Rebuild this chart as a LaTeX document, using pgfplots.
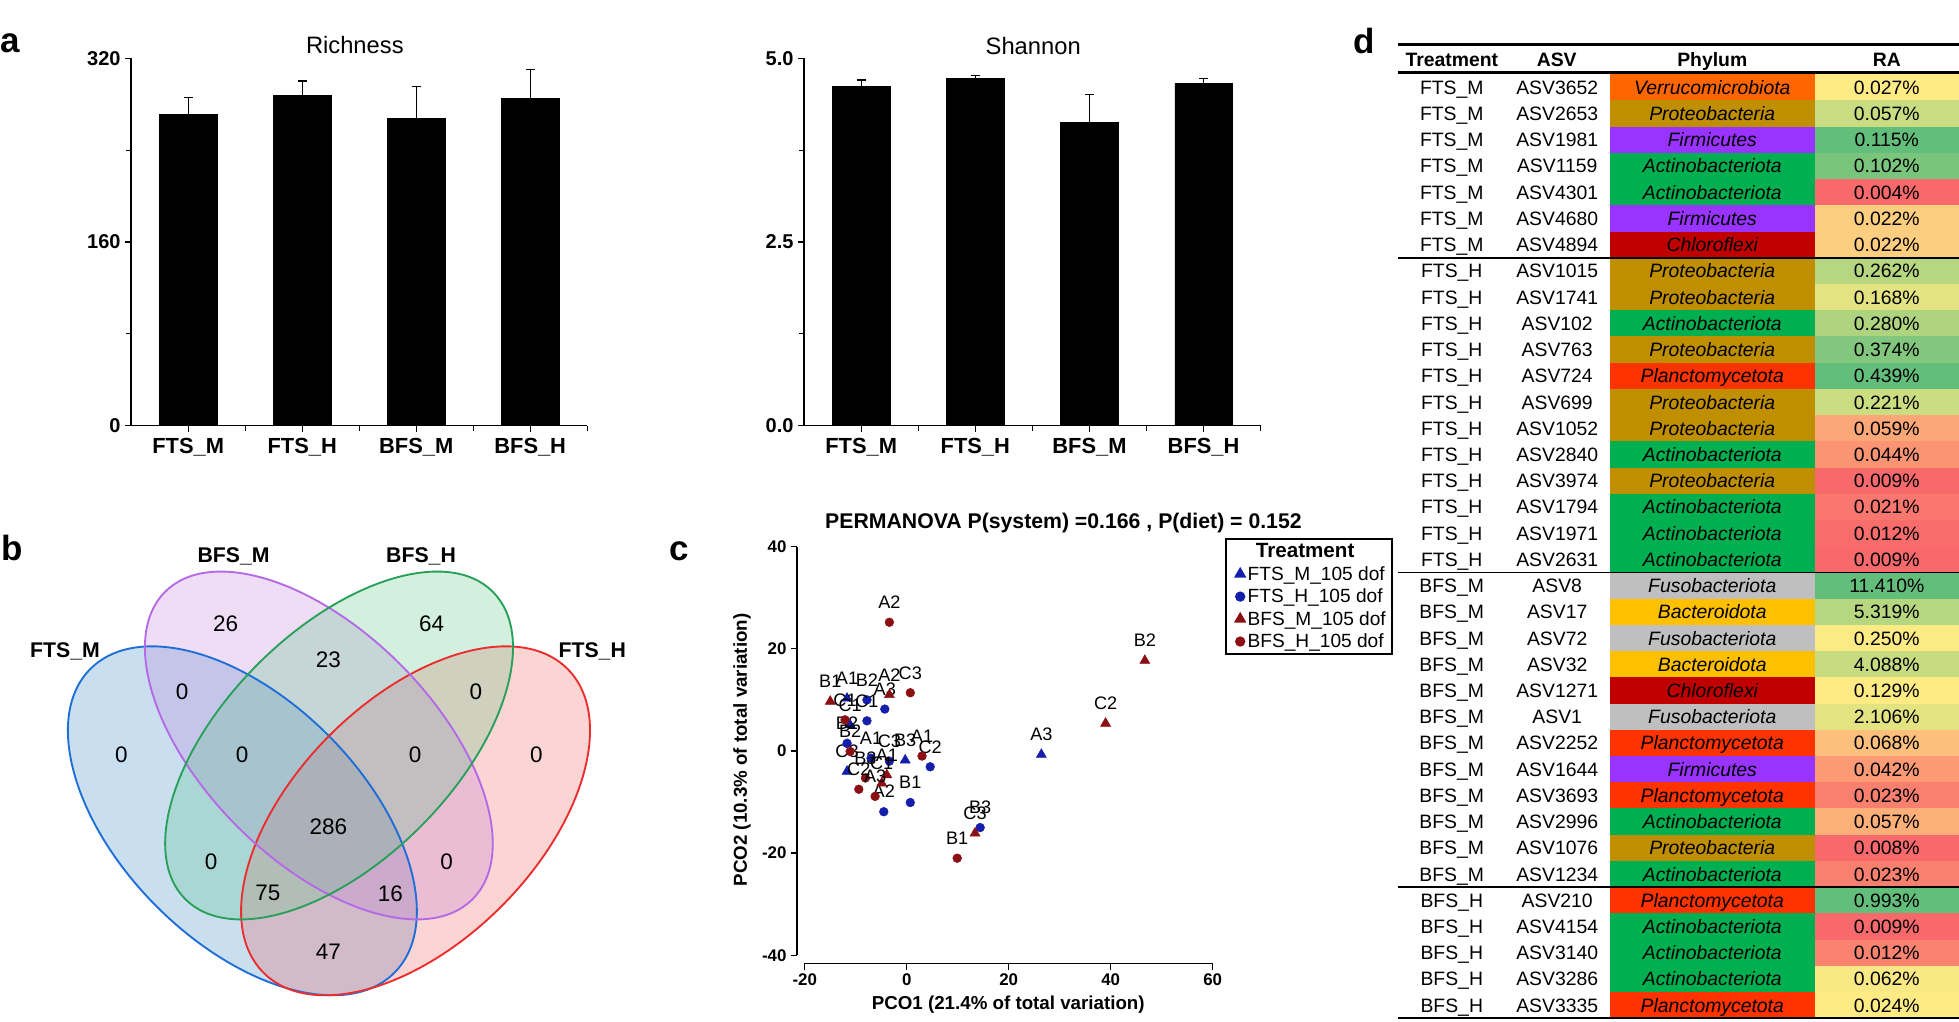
\documentclass[border=0pt]{standalone}
\usepackage{pgfplots}
\pgfplotsset{compat=1.18}
\usepackage{fontspec}
\setmainfont{Liberation Sans}
\newcommand\fs[1]{\fontsize{#1}{#1}\selectfont}
% venn colours
\definecolor{vblueL}{RGB}{30,110,215}
\definecolor{vpurpL}{RGB}{180,105,230}
\definecolor{vgreenL}{RGB}{40,160,90}
\definecolor{vredL}{RGB}{235,45,45}
\definecolor{vblueF}{RGB}{39,127,195}
\definecolor{vpurpF}{RGB}{187,120,215}
\definecolor{vgreenF}{RGB}{79,195,127}
\definecolor{vredF}{RGB}{239,83,83}
% scatter colours
\definecolor{fblue}{RGB}{20,30,170}
\definecolor{bred}{RGB}{140,15,20}
% phylum colours
\definecolor{cVer}{RGB}{255,102,0}
\definecolor{cPro}{RGB}{191,143,0}
\definecolor{cFir}{RGB}{153,51,255}
\definecolor{cAct}{RGB}{0,176,80}
\definecolor{cChl}{RGB}{192,0,0}
\definecolor{cPla}{RGB}{255,51,0}
\definecolor{cFus}{RGB}{191,191,191}
\definecolor{cBac}{RGB}{255,192,0}
% RA scale
\definecolor{rR}{RGB}{248,105,107}
\definecolor{rY}{RGB}{255,235,132}
\definecolor{rG}{RGB}{99,190,123}
\begin{document}
\begin{tikzpicture}[x=1pt,y=1pt]
\useasboundingbox (0,0) rectangle (1568,818);

% ---------------- panel a : Richness ----------------
\begin{axis}[
  at={(105pt,477.3pt)}, anchor=south west,
  scale only axis, width=365pt, height=294pt,
  xmin=0.5, xmax=4.5, ymin=0, ymax=320,
  axis lines*=left,
  axis line style={line width=1.2pt},
  tick style={black, line width=1pt},
  tick align=outside, major tick length=5pt, minor tick length=4pt,
  xtick={1,2,3,4}, xticklabels={FTS\_M,FTS\_H,BFS\_M,BFS\_H},
  minor xtick={1.5,2.5,3.5,4.5},
  ytick={0,160,320}, yticklabels={0,160,320}, minor ytick={80,240},
  xticklabel style={font=\fs{17.5}\bfseries, yshift=-1.5pt},
  yticklabel style={font=\fs{16}\bfseries},
  clip=false,
]
\addplot[ybar, bar width=46pt, fill=black, draw=black,
  error bars/.cd, y dir=plus, y explicit,
  error bar style={line width=1pt, black},
  error mark options={rotate=90, mark size=3.5pt, line width=1pt, black}]
  coordinates {(1,271.5) +- (0,14.5) (2,287.7) +- (0,12.5) (3,268.0) +- (0,27.6) (4,284.8) +- (0,25.6)};
\end{axis}

% ---------------- panel a : Shannon ----------------
\begin{axis}[
  at={(643.6pt,477.3pt)}, anchor=south west,
  scale only axis, width=365.4pt, height=294pt,
  xmin=0.5, xmax=4.5, ymin=0, ymax=5,
  axis lines*=left,
  axis line style={line width=1.2pt},
  tick style={black, line width=1pt},
  tick align=outside, major tick length=5pt, minor tick length=4pt,
  xtick={1,2,3,4}, xticklabels={FTS\_M,FTS\_H,BFS\_M,BFS\_H},
  minor xtick={1.5,2.5,3.5,4.5},
  ytick={0,2.5,5}, yticklabels={0.0,2.5,5.0}, minor ytick={1.25,3.75},
  xticklabel style={font=\fs{17.5}\bfseries, yshift=-1.5pt},
  yticklabel style={font=\fs{16}\bfseries},
  clip=false,
]
\addplot[ybar, bar width=46pt, fill=black, draw=black,
  error bars/.cd, y dir=plus, y explicit,
  error bar style={line width=1pt, black},
  error mark options={rotate=90, mark size=3.5pt, line width=1pt, black}]
  coordinates {(1,4.623) +- (0,0.082) (2,4.732) +- (0,0.032) (3,4.129) +- (0,0.381) (4,4.664) +- (0,0.064)};
\end{axis}

\node[font=\fs{19}] at (284,782) {Richness};
\node[font=\fs{19}] at (827,781) {Shannon};

% ---------------- panel b : Venn ----------------
\fill[vblueF, fill opacity=0.25, rotate around={-45:(194,161)}] (194,161) ellipse (172 and 97);
\fill[vredF, fill opacity=0.25, rotate around={45:(332.6,161)}] (332.6,161) ellipse (172 and 97);
\fill[vpurpF, fill opacity=0.25, rotate around={-45:(255.2,221.3)}] (255.2,221.3) ellipse (174 and 92);
\fill[vgreenF, fill opacity=0.25, rotate around={45:(271.4,221.3)}] (271.4,221.3) ellipse (174 and 92);
\draw[vblueL, line width=1.5pt, rotate around={-45:(194,161)}] (194,161) ellipse (172 and 97);
\draw[vredL, line width=1.5pt, rotate around={45:(332.6,161)}] (332.6,161) ellipse (172 and 97);
\draw[vpurpL, line width=1.5pt, rotate around={-45:(255.2,221.3)}] (255.2,221.3) ellipse (174 and 92);
\draw[vgreenL, line width=1.5pt, rotate around={45:(271.4,221.3)}] (271.4,221.3) ellipse (174 and 92);
\begin{scope}[every node/.style={font=\fs{17}\bfseries}]
\node at (187,372.5) {BFS\_M};
\node at (337,372.5) {BFS\_H};
\node at (52,296.4) {FTS\_M};
\node at (474,296.4) {FTS\_H};
\end{scope}
\begin{scope}[every node/.style={font=\fs{18}}]
\node at (180.5,319) {26};
\node at (345.4,319) {64};
\node at (262.8,289.7) {23};
\node at (145.8,264.4) {0};
\node at (380.8,264.4) {0};
\node at (97.2,213.7) {0};
\node at (193.7,213.7) {0};
\node at (332.2,213.7) {0};
\node at (429.4,213.7) {0};
\node at (262.8,156.3) {286};
\node at (169,128.3) {0};
\node at (357.5,128.3) {0};
\node at (214.5,103) {75};
\node at (312.4,103) {16};
\node at (262.8,56.3) {47};
\end{scope}

% ---------------- panel c : PCoA ----------------
\begin{axis}[
  at={(638pt,46.9pt)}, anchor=south west,
  scale only axis, width=332.6pt, height=333.5pt,
  xmin=-21.5, xmax=60, ymin=-41.6, ymax=40,
  axis lines*=left, axis line style={draw=none},
  xtick={-20,0,20,40,60}, xticklabels={-20,0,20,40,60},
  ytick={-40,-20,0,20,40}, yticklabels={-40,-20,0,20,40},
  tick align=outside, major tick length=5pt, tick style={black, line width=1pt},
  ticklabel style={font=\fs{13.5}\bfseries},
  clip=false,
  legend style={at={(1.0298,1.0201)}, anchor=north west, draw=black, line width=1.2pt,
    font=\fs{15.3}, inner xsep=3pt, inner ysep=1.5pt, row sep=1.4pt},
  legend cell align=left,
  every node near coord/.append style={font=\fs{14.5}, text=black, anchor=base, yshift=11pt, inner sep=0pt},
]
\addlegendimage{empty legend}
\addlegendentry{\makebox[92pt][c]{\fs{16.5}\bfseries\rule[-4pt]{0pt}{4pt}Treatment}}
\addplot[only marks, mark=triangle*, mark size=4.6pt, color=fblue, nodes near coords, point meta=explicit symbolic]
  table[meta=lab] {
x y lab
-11.7 10.3 A1
-11.1 5.1 C1
-0.3 -1.8 B3
-11.7 -4.0 C3
26.4 -0.7 A3
};
\addlegendentry{FTS\_M\_105 dof}
\addplot[only marks, mark=*, mark size=3.5pt, color=fblue, nodes near coords, point meta=explicit symbolic]
  table[meta=lab] {
x y lab
-7.8 10.0 B2
-4.3 8.2 A3
-7.8 5.9 C1
-11.7 1.5 B2
-7.0 -1.4 A1
-3.4 -2.0 C3
4.6 -3.1 C2
0.7 -10.1 B1
-4.5 -11.9 A2
14.4 -15.0 B3
};
\addlegendentry{FTS\_H\_105 dof}
\addplot[only marks, mark=triangle*, mark size=4.6pt, color=bred, nodes near coords, point meta=explicit symbolic]
  table[meta=lab] {
x y lab
-15.0 9.7 B1
-3.4 11.0 A2
-3.9 -4.7 A1
-4.9 -6.3 C1
13.4 -16.1 C3
46.7 17.7 B2
39.0 5.4 C2
};
\addlegendentry{BFS\_M\_105 dof}
\addplot[only marks, mark=*, mark size=3.5pt, color=bred, nodes near coords, point meta=explicit symbolic]
  table[meta=lab] {
x y lab
-3.4 25.2 A2
0.7 11.4 C3
-12.1 6.1 C1
-11.1 -0.1 B2
3.0 -1.0 A1
-8.1 -5.3 B3
-9.4 -7.5 C2
-6.2 -8.9 A3
9.9 -21.0 B1
};
\addlegendentry{BFS\_H\_105 dof}
\draw[line width=1.3pt] (axis cs:-21.5,-40) -- (axis cs:-21.5,40);
\draw[line width=1.3pt] (axis cs:-20,-41.6) -- (axis cs:60,-41.6);
\end{axis}
\node[font=\fs{17}\bfseries] at (851.2,399.1) {PERMANOVA P(system) =0.166 , P(diet) = 0.152};
\node[font=\fs{15}\bfseries, rotate=90] at (594,217.7) {PCO2 (10.3\% of total variation)};
\node[font=\fs{15}\bfseries] at (807,13.6) {PCO1 (21.4\% of total variation)};

% ---------------- panel d : table ----------------
\foreach \i/\tr/\as/\pc/\ph/\rc/\ra in {
1/FTS\_M/ASV3652/cVer/Verrucomicrobiota/rY/0.027,
2/FTS\_M/ASV2653/cPro/Proteobacteria/rG!34!rY/0.057,
3/FTS\_M/ASV1981/cFir/Firmicutes/rG/0.115,
4/FTS\_M/ASV1159/cAct/Actinobacteriota/rG!85!rY/0.102,
5/FTS\_M/ASV4301/cAct/Actinobacteriota/rR/0.004,
6/FTS\_M/ASV4680/cFir/Firmicutes/rR!22!rY/0.022,
7/FTS\_M/ASV4894/cChl/Chloroflexi/rR!22!rY/0.022,
8/FTS\_H/ASV1015/cPro/Proteobacteria/rG!46!rY/0.262,
9/FTS\_H/ASV1741/cPro/Proteobacteria/rG!17!rY/0.168,
10/FTS\_H/ASV102/cAct/Actinobacteriota/rG!51!rY/0.280,
11/FTS\_H/ASV763/cPro/Proteobacteria/rG!80!rY/0.374,
12/FTS\_H/ASV724/cPla/Planctomycetota/rG/0.439,
13/FTS\_H/ASV699/cPro/Proteobacteria/rG!33!rY/0.221,
14/FTS\_H/ASV1052/cPro/Proteobacteria/rR!52!rY/0.059,
15/FTS\_H/ASV2840/cAct/Actinobacteriota/rR!67!rY/0.044,
16/FTS\_H/ASV3974/cPro/Proteobacteria/rR/0.009,
17/FTS\_H/ASV1794/cAct/Actinobacteriota/rR!89!rY/0.021,
18/FTS\_H/ASV1971/cAct/Actinobacteriota/rR!97!rY/0.012,
19/FTS\_H/ASV2631/cAct/Actinobacteriota/rR/0.009,
20/BFS\_M/ASV8/cFus/Fusobacteriota/rG/11.410,
21/BFS\_M/ASV17/cBac/Bacteroidota/rG!46!rY/5.319,
22/BFS\_M/ASV72/cFus/Fusobacteriota/rG!2!rY/0.250,
23/BFS\_M/ASV32/cBac/Bacteroidota/rG!35!rY/4.088,
24/BFS\_M/ASV1271/cChl/Chloroflexi/rY/0.129,
25/BFS\_M/ASV1/cFus/Fusobacteriota/rG!18!rY/2.106,
26/BFS\_M/ASV2252/cPla/Planctomycetota/rR!34!rY/0.068,
27/BFS\_M/ASV1644/cFir/Firmicutes/rR!62!rY/0.042,
28/BFS\_M/ASV3693/cPla/Planctomycetota/rR!83!rY/0.023,
29/BFS\_M/ASV2996/cAct/Actinobacteriota/rR!46!rY/0.057,
30/BFS\_M/ASV1076/cPro/Proteobacteria/rR/0.008,
31/BFS\_M/ASV1234/cAct/Actinobacteriota/rR!83!rY/0.023,
32/BFS\_H/ASV210/cPla/Planctomycetota/rG/0.993,
33/BFS\_H/ASV4154/cAct/Actinobacteriota/rR/0.009,
34/BFS\_H/ASV3140/cAct/Actinobacteriota/rR!80!rY/0.012,
35/BFS\_H/ASV3286/cAct/Actinobacteriota/rG!4!rY/0.062,
36/BFS\_H/ASV3335/cPla/Planctomycetota/rY/0.024}{
  \pgfmathsetmacro\yt{758.6-(\i-1)*20.99}
  \pgfmathsetmacro\yb{742.5-(\i-1)*20.99}
  \fill[fill=\pc] (1288.4,\yt) rectangle (1452.7,\yt-21.2);
  \fill[fill=\rc] (1452.7,\yt) rectangle (1568,\yt-21.2);
  \node[anchor=base, font=\fs{15.5}] at (1162,\yb) {\tr};
  \node[anchor=base, font=\fs{15.5}] at (1246.4,\yb) {\as};
  \node[anchor=base, font=\fs{15.5}\itshape] at (1370.5,\yb) {\ph};
  \node[anchor=base, font=\fs{15.5}] at (1510.2,\yb) {\ra\%};
}
\begin{scope}[every node/.style={anchor=base, font=\fs{15.5}\bfseries}]
\node at (1162,764.9) {Treatment};
\node at (1246,764.9) {ASV};
\node at (1370.5,764.9) {Phylum};
\node at (1510.2,764.9) {RA};
\end{scope}
\draw[line width=2.2pt] (1119.3,782.5) -- (1568,782.5);
\draw[line width=2.5pt] (1119.3,760.1) -- (1568,760.1);
\draw[line width=1.5pt] (1119.3,611.7) -- (1568,611.7);
\draw[line width=1.5pt] (1119.3,359.8) -- (1568,359.8);
\draw[line width=1.5pt] (1119.3,107.9) -- (1568,107.9);
\draw[line width=2.2pt] (1119.3,3.2) -- (1568,3.2);

% ---------------- panel letters ----------------
\begin{scope}[every node/.style={font=\fs{28}\bfseries, inner sep=0pt}]
\node at (8,783) {a};
\node at (9.5,379) {b};
\node at (544,377) {c};
\node at (1092,785) {d};
\end{scope}
\end{tikzpicture}
\end{document}
